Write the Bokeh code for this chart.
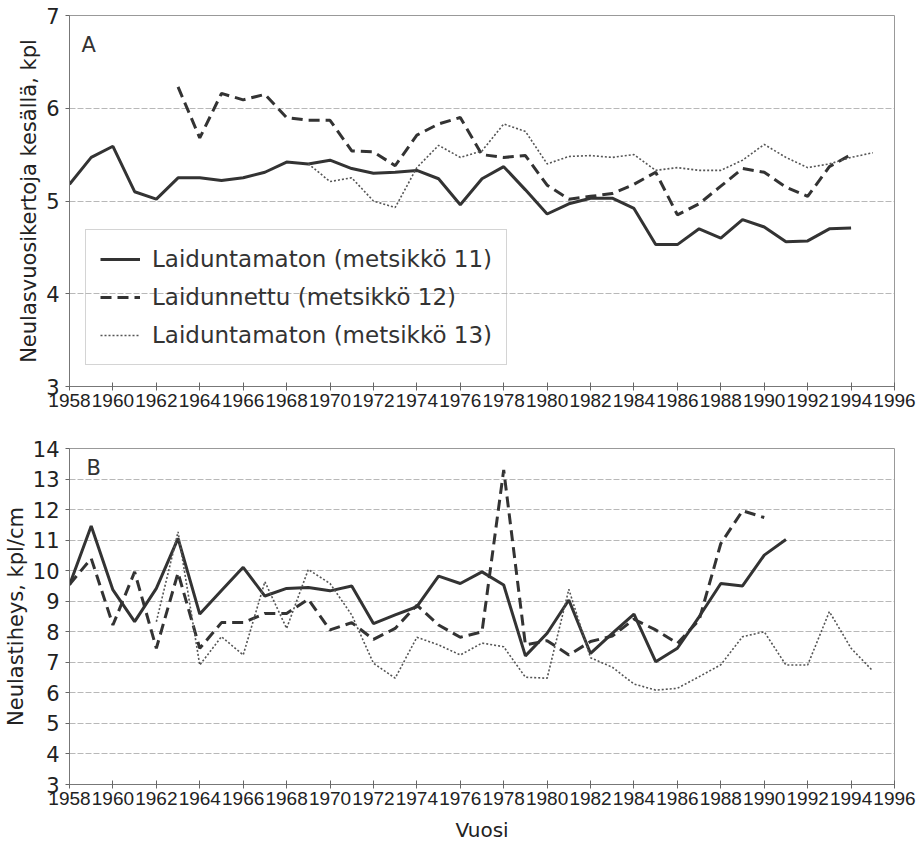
from bokeh.plotting import figure
from bokeh.layouts import column
from bokeh.models import Range1d, FixedTicker, Legend, LegendItem, Label
from bokeh.embed import file_html
from bokeh.resources import INLINE

# ---- data ----
years_a11 = list(range(1958, 1995))
a11 = [5.18, 5.47, 5.59, 5.10, 5.02, 5.25, 5.25, 5.22, 5.25, 5.31, 5.42, 5.40, 5.44,
       5.35, 5.30, 5.31, 5.33, 5.24, 4.96, 5.24, 5.37, 5.12, 4.86, 4.97, 5.03, 5.03,
       4.92, 4.53, 4.53, 4.70, 4.60, 4.80, 4.72, 4.56, 4.57, 4.70, 4.71]
years_a12 = list(range(1963, 1995))
a12 = [6.23, 5.68, 6.16, 6.09, 6.15, 5.90, 5.87, 5.87, 5.54, 5.53, 5.38, 5.71, 5.83,
       5.90, 5.50, 5.47, 5.49, 5.17, 5.02, 5.05, 5.08, 5.18, 5.31, 4.85, 4.97, 5.16,
       5.35, 5.31, 5.15, 5.05, 5.37, 5.50]
years_a13 = list(range(1969, 1996))
a13 = [5.40, 5.21, 5.25, 5.00, 4.93, 5.36, 5.60, 5.47, 5.54, 5.83, 5.75, 5.40, 5.48,
       5.49, 5.47, 5.50, 5.33, 5.36, 5.33, 5.33, 5.44, 5.61, 5.47, 5.36, 5.40, 5.47, 5.52]

years_b11 = list(range(1958, 1992))
b11 = [9.53, 11.46, 9.37, 8.33, 9.42, 11.06, 8.58, 9.35, 10.11, 9.17, 9.42, 9.45, 9.34,
       9.50, 8.27, 8.55, 8.82, 9.82, 9.58, 9.96, 9.53, 7.21, 7.95, 9.04, 7.29, 7.95,
       8.58, 7.02, 7.46, 8.49, 9.58, 9.50, 10.51, 11.02]
years_b12 = list(range(1958, 1991))
b12 = [9.55, 10.40, 8.22, 9.96, 7.46, 9.93, 7.46, 8.30, 8.30, 8.60, 8.60, 9.06, 8.06,
       8.30, 7.75, 8.11, 8.87, 8.22, 7.82, 8.00, 13.30, 7.57, 7.71, 7.24, 7.68, 7.86,
       8.41, 8.06, 7.62, 8.38, 10.89, 11.96, 11.74]
years_b13 = list(range(1962, 1996))
b13 = [8.33, 11.27, 6.91, 7.84, 7.24, 9.64, 8.11, 10.04, 9.58, 8.55, 6.97, 6.48, 7.82,
       7.57, 7.24, 7.63, 7.51, 6.51, 6.48, 9.39, 7.15, 6.84, 6.29, 6.09, 6.15, 6.53,
       6.92, 7.84, 8.00, 6.91, 6.91, 8.66, 7.46, 6.72]

x_ticks = list(range(1958, 1997, 2))
y_ticks_a = [3, 4, 5, 6, 7]
y_ticks_b = list(range(3, 15))
labels = ["Laiduntamaton (metsikkö 11)", "Laidunnettu (metsikkö 12)",
          "Laiduntamaton (metsikkö 13)"]

FONT = "DejaVu Sans"
XFONT = "Liberation Sans"
DARK = "#333333"
GRID = "#9a9a9a"


def style(p, yticks, ytitle):
    p.xaxis.ticker = FixedTicker(ticks=x_ticks)
    p.yaxis.ticker = FixedTicker(ticks=yticks)
    p.xgrid.grid_line_color = None
    p.ygrid.grid_line_color = GRID
    p.ygrid.grid_line_alpha = 0.7
    p.ygrid.grid_line_dash = "6 2"
    p.outline_line_color = "#999999"
    p.outline_line_width = 1
    for ax in (p.xaxis, p.yaxis):
        ax.axis_line_color = "#777777"
        ax.major_tick_line_color = "#666666"
        ax.minor_tick_line_color = None
        ax.major_label_text_color = "#222222"
    p.xaxis.major_tick_in = 4
    p.xaxis.major_tick_out = 4
    p.yaxis.major_tick_in = 0
    p.yaxis.major_tick_out = 4
    p.xaxis.major_label_text_font = XFONT
    p.xaxis.major_label_text_font_size = "19px"
    p.xaxis.major_label_standoff = 3
    p.yaxis.major_label_text_font = FONT
    p.yaxis.major_label_text_font_size = "21px"
    p.yaxis.major_label_standoff = 6
    p.yaxis.axis_label = ytitle
    p.yaxis.axis_label_text_font = FONT
    p.yaxis.axis_label_text_font_size = "21px"
    p.yaxis.axis_label_text_font_style = "normal"
    p.yaxis.axis_label_text_color = "#222222"
    p.yaxis.axis_label_standoff = 2
    p.background_fill_color = "white"
    p.border_fill_color = "white"


# ---- top panel ----
p1 = figure(frame_width=825, frame_height=371, x_range=Range1d(1958, 1996),
            y_range=Range1d(3, 7), output_backend="svg", toolbar_location=None,
            min_border_left=68, min_border_right=28, min_border_top=15,
            min_border_bottom=40)
style(p1, y_ticks_a, "Neulasvuosikertoja kesällä, kpl")
r1 = p1.line(years_a11, a11, line_color=DARK, line_width=3)
r2 = p1.line(years_a12, a12, line_color=DARK, line_width=3, line_dash="11 6")
r3 = p1.line(years_a13, a13, line_color="#555555", line_width=1.6, line_dash="2 2")
legend = Legend(items=[LegendItem(label=labels[0], renderers=[r1]),
                       LegendItem(label=labels[1], renderers=[r2]),
                       LegendItem(label=labels[2], renderers=[r3])],
                location=(16, 21), orientation="vertical")
legend.label_text_font = FONT
legend.label_text_font_size = "23px"
legend.label_text_color = "#333333"
legend.glyph_width = 40
legend.label_standoff = 12
legend.spacing = 8
legend.label_height = 30
legend.padding = 14
legend.border_line_color = "#aaaaaa"
legend.border_line_width = 1
legend.background_fill_alpha = 0.0
p1.add_layout(legend, "center")
p1.add_layout(Label(x=12, y=330, x_units="screen", y_units="screen", text="A",
                    text_font=FONT, text_font_size="21px", text_color="#333333"))

# ---- bottom panel ----
p2 = figure(frame_width=825, frame_height=336, x_range=Range1d(1958, 1996),
            y_range=Range1d(3, 14), output_backend="svg", toolbar_location=None,
            min_border_left=68, min_border_right=28, min_border_top=22,
            min_border_bottom=55)
style(p2, y_ticks_b, "Neulastiheys, kpl/cm")
p2.line(years_b11, b11, line_color=DARK, line_width=3)
p2.line(years_b12, b12, line_color=DARK, line_width=3, line_dash="11 6")
p2.line(years_b13, b13, line_color="#555555", line_width=1.6, line_dash="2 2")
p2.xaxis.axis_label = "Vuosi"
p2.xaxis.axis_label_text_font = FONT
p2.xaxis.axis_label_text_font_size = "20px"
p2.xaxis.axis_label_text_font_style = "normal"
p2.xaxis.axis_label_text_color = "#222222"
p2.xaxis.axis_label_standoff = 10
p2.add_layout(Label(x=17, y=305, x_units="screen", y_units="screen", text="B",
                    text_font=FONT, text_font_size="21px", text_color="#333333"))

layout = column(p1, p2, spacing=0)
open("out.html", "w").write(file_html(layout, INLINE))
